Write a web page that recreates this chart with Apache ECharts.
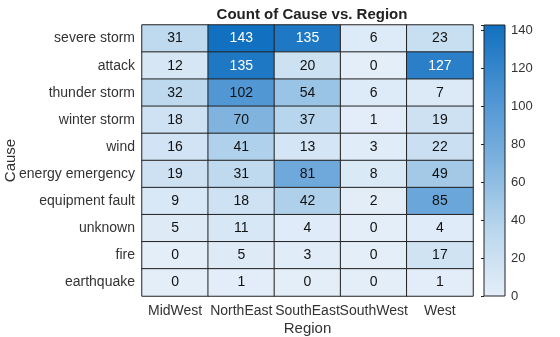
<!DOCTYPE html>
<html><head><meta charset="utf-8">
<script src="https://cdn.jsdelivr.net/npm/echarts@6/dist/echarts.min.js"></script>
<style>html,body{margin:0;padding:0;background:#fff}#c{width:560px;height:337px}</style>
</head><body><div id="c"></div>
<script>
const regions = ['MidWest','NorthEast','SouthEast','SouthWest','West'];
const causes = ['severe storm','attack','thunder storm','winter storm','wind','energy emergency','equipment fault','unknown','fire','earthquake'];
const severeStorm = [31,143,135,6,23];
const attack = [12,135,20,0,127];
const thunderStorm = [32,102,54,6,7];
const winterStorm = [18,70,37,1,19];
const wind = [16,41,13,3,22];
const energyEmergency = [19,31,81,8,49];
const equipmentFault = [9,18,42,2,85];
const unknown = [5,11,4,0,4];
const fire = [0,5,3,0,17];
const earthquake = [0,1,0,0,1];
const colorbarTicks = [0,20,40,60,80,100,120,140];
const rows = [severeStorm,attack,thunderStorm,winterStorm,wind,energyEmergency,equipmentFault,unknown,fire,earthquake];
const vmax = 143;
const stops = ['#e4eef9','#b9d6ed','#7db2de','#4a92d2','#1170bf'];

const data = [];
rows.forEach((r,yi)=>r.forEach((v,xi)=>{
  data.push({value:[xi,yi,v], label:{color: v>110?'#ffffff':'#111111'}});
}));

const chart = echarts.init(document.getElementById('c'), null, {renderer:'canvas'});
const font = 'Liberation Sans, Arial, sans-serif';
chart.setOption({
  animation:false,
  textStyle:{fontFamily:font},
  title:{text:'Count of Cause vs. Region', left:307, top:2, textAlign:'center',
    textStyle:{fontSize:15, fontWeight:'bold', color:'#222', fontFamily:font}},
  grid:[
    {left:142, top:25, width:331, height:271, show:false, containLabel:false, outerBoundsMode:'none'},
    {left:484, top:25, width:21, height:271, show:true, borderColor:'#222', borderWidth:1, containLabel:false, outerBoundsMode:'none',
     backgroundColor:{type:'linear',x:0,y:1,x2:0,y2:0,colorStops:stops.map((c,i)=>({offset:i/(stops.length-1),color:c}))}}
  ],
  xAxis:[
    {type:'category', data:regions, gridIndex:0, position:'bottom',
     name:'Region', nameLocation:'middle', nameGap:25, nameMoveOverlap:false,
     nameTextStyle:{fontSize:15, color:'#333', fontFamily:font},
     axisLine:{show:false}, axisTick:{show:false}, splitLine:{show:false},
     axisLabel:{fontSize:14, color:'#333', margin:8, interval:0, fontFamily:font}},
    {type:'value', gridIndex:1, show:false, min:0, max:1}
  ],
  yAxis:[
    {type:'category', data:causes, gridIndex:0, inverse:true,
     name:'Cause', nameLocation:'middle', nameGap:124, nameRotate:90, nameMoveOverlap:false,
     nameTextStyle:{fontSize:15, color:'#333', fontFamily:font},
     axisLine:{show:false}, axisTick:{show:false}, splitLine:{show:false},
     axisLabel:{fontSize:14, color:'#333', margin:7, interval:0, fontFamily:font}},
    {type:'value', gridIndex:1, position:'right', min:0, max:vmax, interval:20,
     axisLine:{show:false}, splitLine:{show:false},
     axisTick:{show:true, inside:true, length:3, lineStyle:{color:'#222'}},
     axisLabel:{fontSize:13, color:'#333', margin:6, fontFamily:font,
       customValues: colorbarTicks}}
  ],
  visualMap:{show:false, min:0, max:vmax, dimension:2, seriesIndex:0, inRange:{color:stops}},
  series:[{
    type:'heatmap', xAxisIndex:0, yAxisIndex:0, data:data,
    label:{show:true, fontSize:14, fontFamily:font},
    itemStyle:{borderColor:'#222', borderWidth:1},
    emphasis:{disabled:true}
  }]
});
</script></body></html>
